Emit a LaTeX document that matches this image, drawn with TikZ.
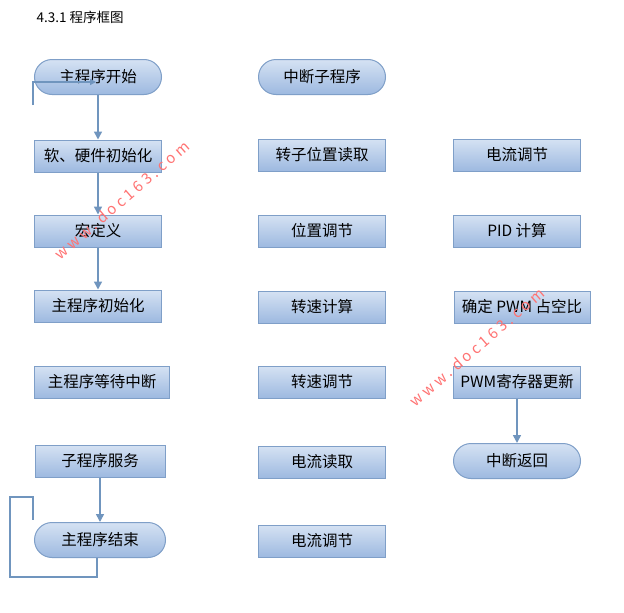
\documentclass[tikz,border=0pt]{standalone}
\usepackage{fontspec}
\setmainfont{Noto Sans CJK SC}
\usetikzlibrary{shapes.misc,arrows.meta}
\definecolor{bdr}{HTML}{7F9FC8}
\definecolor{ftop}{HTML}{D5E2F3}
\definecolor{fbot}{HTML}{9DB9E0}
\definecolor{ln}{HTML}{7095BE}
\tikzset{
 box/.style={draw=bdr,line width=1pt,top color=ftop,bottom color=fbot,minimum height=32pt,minimum width=127pt,inner sep=0pt,font=\fontsize{15.5}{15.5}\selectfont},
 term/.style={box,rounded rectangle,minimum height=35pt},
 arr/.style={draw=ln,line width=1.6pt,-{Triangle[length=8pt,width=8pt]}},
 lin/.style={draw=ln,line width=1.3pt},
 wm/.style={text=red!55,font=\fontsize{15}{15}\selectfont,rotate=41}
}
\begin{document}
\begin{tikzpicture}[x=1pt,y=-1pt]
\useasboundingbox (0,0) rectangle (624,613);
\fill[white] (0,0) rectangle (624,613);
\node[anchor=west,font=\fontsize{13.5}{13.5}\selectfont] (title) at (33,17) {4.3.1 程序框图};
% column 1
\node[term] (s) at (98,77) {主程序开始};
\node[box] (a1) at (98,156) {软、硬件初始化};
\node[box] (a2) at (98,231) {宏定义};
\node[box] (a3) at (98,306) {主程序初始化};
\node[box,minimum width=135pt] (a4) at (102,382) {主程序等待中断};
\node[box,minimum width=130pt] (a5) at (100,461) {子程序服务};
\node[term,minimum width=131pt] (e) at (100,540) {主程序结束};
% column 2
\node[term] (i) at (322,77) {中断子程序};
\node[box] (b1) at (322,155) {转子位置读取};
\node[box] (b2) at (322,231) {位置调节};
\node[box] (b3) at (322,307) {转速计算};
\node[box] (b4) at (322,382) {转速调节};
\node[box] (b5) at (322,462) {电流读取};
\node[box] (b6) at (322,541) {电流调节};
% column 3
\node[box] (c1) at (517,155) {电流调节};
\node[box] (c2) at (517,231) {PID 计算};
\node[box,minimum width=136pt] (c3) at (522,307) {确定 PWM 占空比};
\node[box] (c4) at (517,382) {PWM寄存器更新};
\node[term] (r) at (517,461) {中断返回};
% connectors
\draw[arr] (s) -- (a1);
\draw[arr] (a1) -- (a2);
\draw[arr] (a2) -- (a3);
\draw[arr] (a5.south -| e) -- (e.north);
\draw[arr] (c4) -- (r);
\coordinate (lp1) at (33,105);
\coordinate (lp2) at (96,82);
\draw[lin,-{Triangle[length=6pt,width=6pt]}] (lp1) |- (lp2);
\coordinate (q1) at (97,577);
\coordinate (q2) at (10,497);
\coordinate (q3) at (33,520);
\draw[lin] (e.south -| q1) -- (q1) -| (q2) -| (q3);
% watermark
\node[wm] (w1) at (122,200) {w w w . d o c 1 6 3 . c o m};
\node[wm] (w2) at (477,347) {w w w . d o c 1 6 3 . c o m};
\end{tikzpicture}
\end{document}
